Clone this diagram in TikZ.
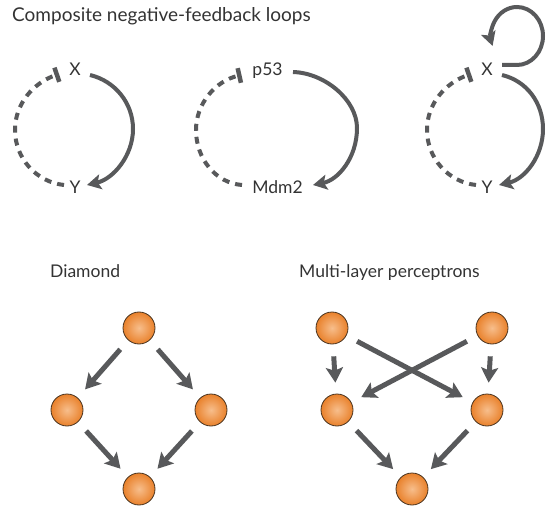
\documentclass[tikz,border=0pt]{standalone}
\usepackage{fontspec}
\setmainfont{Lato}
\usetikzlibrary{arrows.meta}
\definecolor{ink}{HTML}{58595B}
\definecolor{txt}{HTML}{333333}
\definecolor{ballout}{HTML}{E9812B}
\definecolor{ballin}{HTML}{F7BE8C}
\definecolor{rim}{HTML}{4A3420}

\begin{document}
\begin{tikzpicture}[x=1pt,y=-1pt,
  lbl/.style={font=\fontsize{17.5}{21}\selectfont, text=txt, inner sep=0pt, anchor=base},
  heading/.style={lbl, anchor=base west},
  act/.style={draw=ink, line width=4pt, -{Stealth[length=14pt,width=15pt,inset=3pt]}},
  inh/.style={draw=ink, line width=4pt, dash pattern=on 7pt off 6pt, -{Bar[width=15pt,line width=4.5pt]}},
  flow/.style={draw=ink, line width=5pt, -{Stealth[length=15pt,width=17pt,inset=3pt]}, shorten <=12pt, shorten >=11pt},
  ball/.style={circle, minimum size=32pt, inner sep=0pt, draw=rim, line width=0.8pt, inner color=ballin, outer color=ballout}]

\useasboundingbox (0,0) rectangle (557,513);

% headings
\node[heading, font=\fontsize{19}{23}\selectfont] (tloops) at (12,22) {Composite negative-feedback loops};
\node[heading] (tdiam) at (50,277) {Diamond};
\node[heading] (tmlp) at (299,277) {Multi-layer perceptrons};

% loop 1: X activates Y, Y represses X
\node[lbl] (X1) at (75,76) {X};
\node[lbl] (Y1) at (75,194) {Y};
\draw[act] ([shift={(15,-1)}]X1.base) .. controls (115,81) and (133,103) .. (133,129)
  .. controls (133,156) and (113,179) .. ([shift={(12,-9)}]Y1.base);
\draw[inh] ([shift={(-11,-9)}]Y1.base) .. controls (36,182) and (15,158) .. (15,130)
  .. controls (15,104) and (33,83) .. ([shift={(-16,-2)}]X1.base);

% loop 2: p53 / Mdm2
\node[lbl] (P) at (267.5,76) {p53};
\node[lbl] (M) at (277.5,194) {Mdm2};
\draw[act] ([shift={(25.5,-4)}]P.base) .. controls (325,73) and (357,100) .. (357,128)
  .. controls (357,158) and (338,180) .. ([shift={(35.5,-9)}]M.base);
\draw[inh] ([shift={(-35.5,-9)}]M.base) .. controls (215,183) and (196,158) .. (196,130)
  .. controls (196,104) and (215,81) .. ([shift={(-26,-1)}]P.base);

% loop 3: as loop 1, plus positive autoregulation of X
\begin{scope}[xshift=412pt]
\node[lbl] (X3) at (75,76) {X};
\node[lbl] (Y3) at (75,194) {Y};
\draw[act] ([shift={(15,-1)}]X3.base) .. controls (115,81) and (131,103) .. (131,129)
  .. controls (131,156) and (113,179) .. ([shift={(12,-9)}]Y3.base);
\draw[inh] ([shift={(-11,-9)}]Y3.base) .. controls (36,182) and (15,158) .. (15,130)
  .. controls (15,104) and (33,83) .. ([shift={(-16,-2)}]X3.base);
\draw[act] ([shift={(15,-11)}]X3.base) -- ++(15,0)
  arc[start angle=90, end angle=-200, x radius=26, y radius=29];
\end{scope}

% diamond
\node[ball] (d1) at (139,328) {};
\node[ball] (d2) at (67,410) {};
\node[ball] (d3) at (211,410) {};
\node[ball] (d4) at (139,489) {};
\draw[flow] (d1) -- (d2);
\draw[flow] (d1) -- (d3);
\draw[flow] (d2) -- (d4);
\draw[flow] (d3) -- (d4);

% multi-layer perceptron
\node[ball] (m1) at (332,328) {};
\node[ball] (m2) at (492,328) {};
\node[ball] (m3) at (337,410) {};
\node[ball] (m4) at (487,410) {};
\node[ball] (m5) at (412,489) {};
\draw[flow] (m1) -- (m3);
\draw[flow] (m2) -- (m4);
\draw[flow] (m2) -- (m3);
\draw[flow] (m1) -- (m4);
\draw[flow] (m3) -- (m5);
\draw[flow] (m4) -- (m5);
\end{tikzpicture}
\end{document}
